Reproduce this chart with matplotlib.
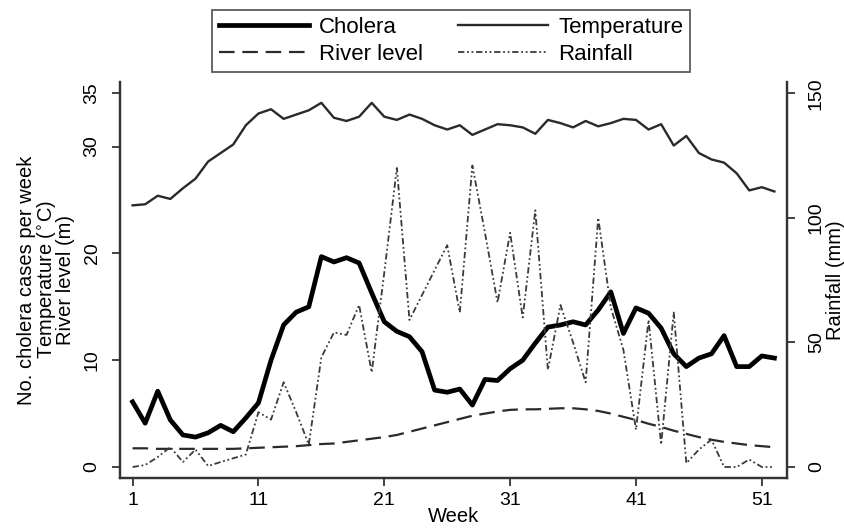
import matplotlib
matplotlib.use("Agg")
import matplotlib.pyplot as plt
import numpy as np

plt.rcParams['font.family'] = ['Liberation Sans', 'DejaVu Sans']

weeks = list(range(1, 53))

cholera = [6.1, 4.1, 7.1, 4.4, 3.0, 2.8, 3.2, 3.9, 3.3, 4.6,
           6.0, 10.0, 13.3, 14.5, 15.0, 19.7, 19.2, 19.6, 19.1, 16.3,
           13.6, 12.7, 12.2, 10.8, 7.2, 7.0, 7.3, 5.8, 8.2, 8.1,
           9.2, 10.0, 11.6, 13.1, 13.3, 13.6, 13.3, 14.7, 16.4, 12.5,
           14.9, 14.4, 13.0, 10.6, 9.4, 10.2, 10.6, 12.3, 9.4, 9.4,
           10.4, 10.2]

temperature = [24.5, 24.6, 25.4, 25.1, 26.1, 27.0, 28.6, 29.4, 30.2, 32.0,
               33.1, 33.5, 32.6, 33.0, 33.4, 34.1, 32.7, 32.4, 32.8, 34.1,
               32.8, 32.5, 33.0, 32.6, 32.0, 31.6, 32.0, 31.1, 31.6, 32.1,
               32.0, 31.8, 31.2, 32.5, 32.2, 31.8, 32.4, 31.9, 32.2, 32.6,
               32.5, 31.6, 32.1, 30.1, 31.0, 29.4, 28.8, 28.5, 27.5, 25.9,
               26.2, 25.8]

river_level = [1.75, 1.75, 1.7, 1.7, 1.7, 1.7, 1.7, 1.7, 1.7, 1.75,
               1.8, 1.85, 1.9, 1.95, 2.05, 2.15, 2.2, 2.35, 2.5, 2.65,
               2.8, 3.0, 3.3, 3.6, 3.9, 4.2, 4.5, 4.8, 5.0, 5.2,
               5.35, 5.4, 5.4, 5.45, 5.5, 5.5, 5.4, 5.25, 5.0, 4.7,
               4.4, 4.05, 3.75, 3.4, 3.1, 2.8, 2.55, 2.35, 2.2, 2.05,
               1.95, 1.85]

rainfall = [0, 0.8, 4, 8, 2, 7, 0.4, 2, 3.5, 5,
            22, 19, 34, 22, 9, 44, 54, 53, 65, 38,
            78, 120, 59, 69, 79, 89, 62, 121, 94, 66,
            94, 60, 103, 39, 65, 50, 34, 100, 64, 47,
            15, 59, 9, 62, 1.5, 7, 11, 0, 0, 3,
            0, 0]

xticks = [1, 11, 21, 31, 41, 51]
left_ticks = [0, 10, 20, 30, 35]
right_ticks = [0, 50, 100, 150]

fig = plt.figure(figsize=(8.45, 5.31), dpi=100)
ax = fig.add_axes([120/845, 1-478/531, (787-120)/845, (478-82)/531])
ax2 = ax.twinx()

axis_col = '#333333'
l1, = ax.plot(weeks, cholera, color='black', lw=3.4, solid_joinstyle='round', label='Cholera')
l2, = ax.plot(weeks, temperature, color='#2a2a2a', lw=1.7, label='Temperature')
l3, = ax.plot(weeks, river_level, color='#2a2a2a', lw=1.6, dashes=(7, 3.5), label='River level')
l4, = ax2.plot(weeks, rainfall, color='#3a3a3a', lw=1.3, dashes=(3.5, 1.5, 1, 1.5, 1, 1.5), label='Rainfall')

ax.set_xlim(0, 53)
ymin, ymax = -1.03, 36.05
ax.set_ylim(ymin, ymax)
ax2.set_ylim(ymin * 150/35, ymax * 150/35)

ax.set_xticks(xticks)
ax.set_yticks(left_ticks)
ax2.set_yticks(right_ticks)

for a in (ax, ax2):
    for s in a.spines.values():
        s.set_color(axis_col)
        s.set_linewidth(1.6)
    a.spines['top'].set_visible(False)

ax.tick_params(axis='x', colors=axis_col, labelcolor='black', length=6, width=1.3, labelsize=14, pad=4)
ax.tick_params(axis='y', colors=axis_col, labelcolor='black', length=6, width=1.3, labelsize=14, pad=8)
ax2.tick_params(axis='y', colors=axis_col, labelcolor='black', length=6, width=1.3, labelsize=14, pad=9)
for lab in ax.get_yticklabels():
    lab.set_rotation(90)
    lab.set_va('center')
for lab in ax2.get_yticklabels():
    lab.set_rotation(90)
    lab.set_va('center')

ax.set_xlabel('Week', fontsize=14.5, labelpad=-1)
ax.set_ylabel('No. cholera cases per week\nTemperature ($^{\\circ}$C)\nRiver level (m)',
              fontsize=14.5, linespacing=0.9, labelpad=6)
ax2.set_ylabel('Rainfall (mm)', fontsize=14.5, rotation=90, va='center', ha='center')
ax2.yaxis.set_label_coords((836-120)/667, 0.5)

leg = fig.legend(handles=[l1, l3, l2, l4], labels=['Cholera', 'River level', 'Temperature', 'Rainfall'],
                 ncol=2, loc='center', bbox_to_anchor=(451/845, 1-41/531),
                 fontsize=16, handlelength=4.05, columnspacing=1.6, handletextpad=0.45,
                 labelspacing=0.29, borderpad=0.3, borderaxespad=0, frameon=True, fancybox=False)
leg.get_frame().set_edgecolor('#333333')
leg.get_frame().set_linewidth(1.3)

fig.savefig('out.png', dpi=100)
